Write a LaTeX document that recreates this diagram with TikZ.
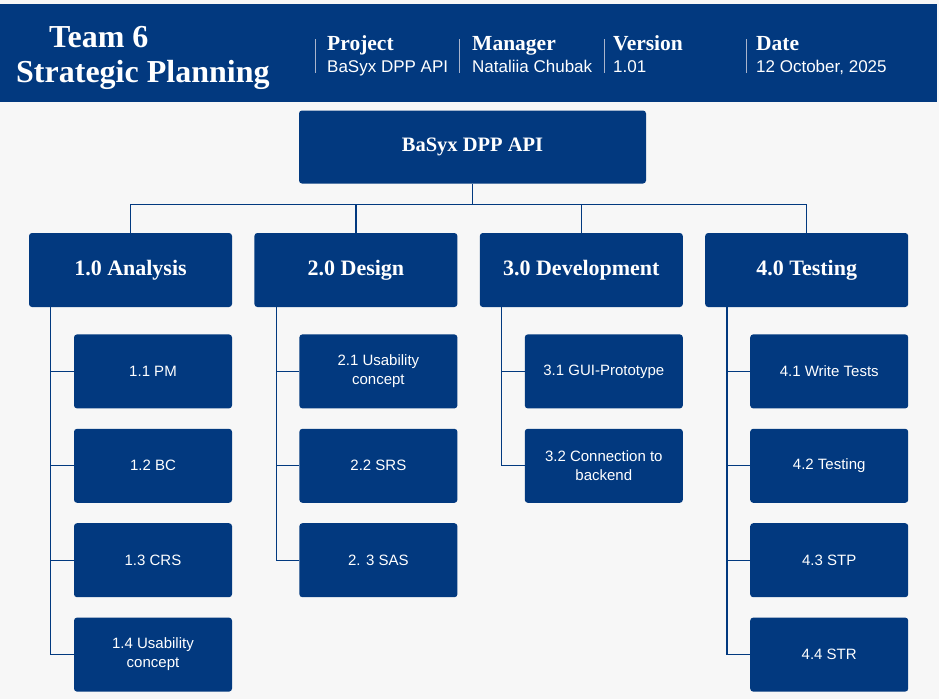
\documentclass[tikz,border=0pt]{standalone}
\usepackage{fontspec}
\setmainfont{Liberation Serif}
\setsansfont{Liberation Sans}
\usetikzlibrary{positioning, calc}
\definecolor{navy}{HTML}{02397F}
\definecolor{paper}{HTML}{F7F7F7}
\definecolor{rulegrey}{HTML}{A9B4CC}

\begin{document}
\begin{tikzpicture}[x=1pt, y=-1pt, node distance=20pt,
  every node/.style={text=white, inner sep=0pt},
  head/.style={anchor=base west, font=\bfseries\fontsize{32}{36}\selectfont},
  field/.style={anchor=base west, font=\bfseries\fontsize{21.5}{24}\selectfont},
  value/.style={anchor=base west, font=\sffamily\fontsize{17}{20}\selectfont},
  root/.style={fill=navy, rounded corners=3pt, minimum width=347pt, minimum height=73pt, font=\bfseries\fontsize{20.5}{24}\selectfont},
  phase/.style={fill=navy, rounded corners=3pt, minimum width=203pt, minimum height=74pt, font=\bfseries\fontsize{22}{26}\selectfont},
  task/.style={fill=navy, rounded corners=3pt, minimum width=158pt, minimum height=74pt, align=center, font=\sffamily\fontsize{15}{19}\selectfont},
  link/.style={draw=navy, line width=1.3pt},
  sep/.style={draw=rulegrey, line width=1pt}]
\fill[paper] (0,0) rectangle (939,699);
\useasboundingbox (0,0) rectangle (939,699);
% header band
\fill[navy] (0,4) rectangle (937,102);
\node[head] (team) at (49,47) {Team 6};
\node[head] (plan) at (16,82) {Strategic Planning};
\draw[sep] (315,39) -- (315,73);
\draw[sep] (459,39) -- (459,73);
\draw[sep] (604,39) -- (604,73);
\draw[sep] (746,39) -- (746,73);
\node[field] (lproject) at (327,50) {Project};
\node[value] (vproject) at (327,72) {BaSyx DPP API};
\node[field] (lmanager) at (472,50) {Manager};
\node[value] (vmanager) at (472,72) {Nataliia Chubak};
\node[field] (lversion) at (613,50) {Version};
\node[value] (vversion) at (613,72) {1.01};
\node[field] (ldate) at (756,50) {Date};
\node[value] (vdate) at (756,72) {12 October, 2025};
% tree
\node[root] (root) at (472.5,147) {BaSyx DPP API};
\node[phase] (analysis) at (130.5,270) {1.0 Analysis};
\node[phase, right=22pt of analysis] (design) {2.0 Design};
\node[phase, right=22pt of design] (dev) {3.0 Development};
\node[phase, right=22pt of dev] (testing) {4.0 Testing};

\node[task, below left=27pt and 0pt of analysis.south east] (pm) {1.1 PM};
\node[task, below=of pm] (bc) {1.2 BC};
\node[task, below=of bc] (crs) {1.3 CRS};
\node[task, below=of crs] (usab1) {1.4 Usability\\concept};

\node[task, below left=27pt and 0pt of design.south east] (usab2) {2.1 Usability\\concept};
\node[task, below=of usab2] (srs) {2.2 SRS};
\node[task, below=of srs] (sas) {2. 3 SAS};

\node[task, below left=27pt and 0pt of dev.south east] (gui) {3.1 GUI-Prototype};
\node[task, below=of gui] (backend) {3.2 Connection to\\backend};

\node[task, below left=27pt and 0pt of testing.south east] (write) {4.1 Write Tests};
\node[task, below=of write] (test) {4.2 Testing};
\node[task, below=of test] (stp) {4.3 STP};
\node[task, below=of stp] (str) {4.4 STR};

\draw[link] (root.south) -- ++(0,21) coordinate (bus);
\draw[link] (analysis.north) |- (bus) -| (testing.north);
\draw[link] (design.north) -- (design.north |- bus);
\draw[link] (dev.north) -- (dev.north |- bus);

\coordinate (sa) at ($(analysis.south west)+(22,0)$);
\coordinate (sd) at ($(design.south west)+(22,0)$);
\coordinate (sv) at ($(dev.south west)+(22,0)$);
\coordinate (st) at ($(testing.south west)+(22,0)$);
\draw[link] (sa) |- (usab1.west);
\draw[link] (sd) |- (sas.west);
\draw[link] (sv) |- (backend.west);
\draw[link] (st) |- (str.west);
\foreach \t in {pm,bc,crs} \draw[link] (sa |- \t.west) -- (\t.west);
\foreach \t in {usab2,srs} \draw[link] (sd |- \t.west) -- (\t.west);
\draw[link] (sv |- gui.west) -- (gui.west);
\foreach \t in {write,test,stp} \draw[link] (st |- \t.west) -- (\t.west);
\end{tikzpicture}
\end{document}
